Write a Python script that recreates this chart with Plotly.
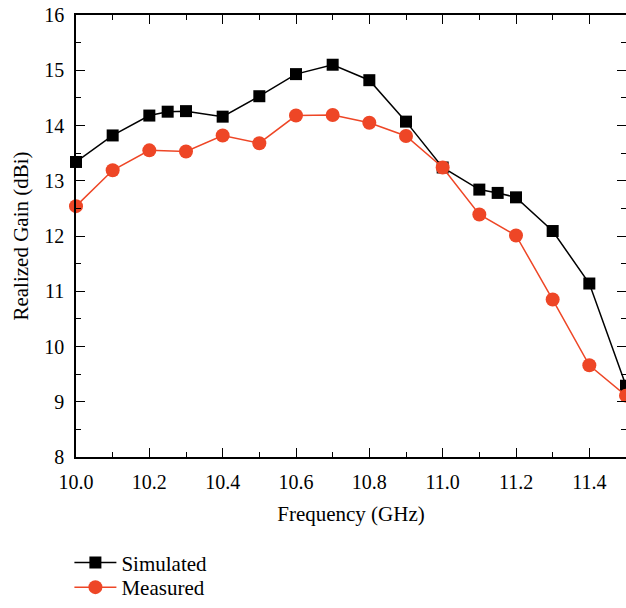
import plotly.graph_objects as go

sim_freq = [10.0, 10.1, 10.2, 10.25, 10.3, 10.4, 10.5, 10.6, 10.7, 10.8, 10.9,
            11.0, 11.1, 11.15, 11.2, 11.3, 11.4, 11.5]
sim_gain = [13.34, 13.82, 14.18, 14.25, 14.26, 14.16, 14.53, 14.93, 15.10, 14.82, 14.07,
            13.24, 12.84, 12.78, 12.70, 12.09, 11.14, 9.29]

meas_freq = [10.0, 10.1, 10.2, 10.3, 10.4, 10.5, 10.6, 10.7, 10.8, 10.9,
             11.0, 11.1, 11.2, 11.3, 11.4, 11.5]
meas_gain = [12.54, 13.19, 13.55, 13.53, 13.82, 13.68, 14.18, 14.19, 14.05, 13.81,
             13.24, 12.39, 12.01, 10.85, 9.66, 9.11]

x_ticks = [10.0, 10.2, 10.4, 10.6, 10.8, 11.0, 11.2, 11.4]
x_labels = ["10.0", "10.2", "10.4", "10.6", "10.8", "11.0", "11.2", "11.4"]
y_ticks = [8, 9, 10, 11, 12, 13, 14, 15, 16]

RED = "#EE4626"
FONT = "Liberation Serif"
FS = 20
FT = 21

fig = go.Figure()
fig.add_trace(go.Scatter(
    x=sim_freq, y=sim_gain, name="Simulated", mode="lines+markers",
    line=dict(color="black", width=1.5),
    marker=dict(symbol="square", size=12, color="black"),
    cliponaxis=False, legend="legend",
))
fig.add_trace(go.Scatter(
    x=meas_freq, y=meas_gain, name="Measured", mode="lines+markers",
    line=dict(color=RED, width=1.5),
    marker=dict(symbol="circle", size=14, color=RED),
    cliponaxis=False, legend="legend2",
))
# carrier for right-hand inside ticks without a visible axis line
fig.add_trace(go.Scatter(x=[10.0], y=[8], yaxis="y2", showlegend=False,
                         mode="markers", marker=dict(opacity=0), hoverinfo="skip"))

leg_common = dict(xanchor="left", yanchor="top", font=dict(family=FONT, size=FT),
                  bgcolor="rgba(0,0,0,0)", itemwidth=42)
tick_common = dict(ticks="inside", ticklen=9, tickwidth=1.2, tickcolor="black")

fig.update_layout(
    width=626, height=608,
    margin=dict(l=76, r=0, t=15, b=129),
    paper_bgcolor="white", plot_bgcolor="white",
    font=dict(family=FONT, size=FS, color="black"),
    showlegend=True,
    legend=dict(x=-0.012, y=-0.193, **leg_common),
    legend2=dict(x=-0.012, y=-0.250, **leg_common),
    xaxis=dict(
        range=[10.0, 11.5], tickvals=x_ticks, ticktext=x_labels, **tick_common,
        minor=dict(ticks="inside", ticklen=5, dtick=0.1, tick0=10.0, tickcolor="black", tickwidth=1.2, showgrid=False),
        showline=True, linecolor="black", linewidth=1.5, mirror="ticks",
        showgrid=False, zeroline=False, automargin=False,
        ticklabelstandoff=6,
        title=dict(text="Frequency (GHz)", font=dict(family=FONT, size=FT), standoff=15),
        tickfont=dict(family=FONT, size=FS),
    ),
    yaxis=dict(
        range=[8, 16], tickvals=y_ticks, **tick_common,
        minor=dict(ticks="inside", ticklen=5, dtick=0.5, tick0=8, tickcolor="black", tickwidth=1.2, showgrid=False),
        showline=True, linecolor="black", linewidth=1.5, mirror=False,
        showgrid=False, zeroline=False, automargin=False,
        ticklabelstandoff=6,
        title=dict(text="Realized Gain (dBi)", font=dict(family=FONT, size=FT), standoff=10),
        tickfont=dict(family=FONT, size=FS),
    ),
    yaxis2=dict(
        range=[8, 16], overlaying="y", side="right", tickvals=y_ticks, **tick_common,
        minor=dict(ticks="inside", ticklen=5, dtick=0.5, tick0=8, tickcolor="black", tickwidth=1.2, showgrid=False),
        showline=False, showticklabels=False, showgrid=False, zeroline=False, automargin=False,
    ),
)

fig.write_html(
    "out.html",
    config={"displayModeBar": False},
    post_script=("document.body.style.margin='0';document.body.style.overflow='hidden';"
                 "document.documentElement.style.overflow='hidden';"),
)
